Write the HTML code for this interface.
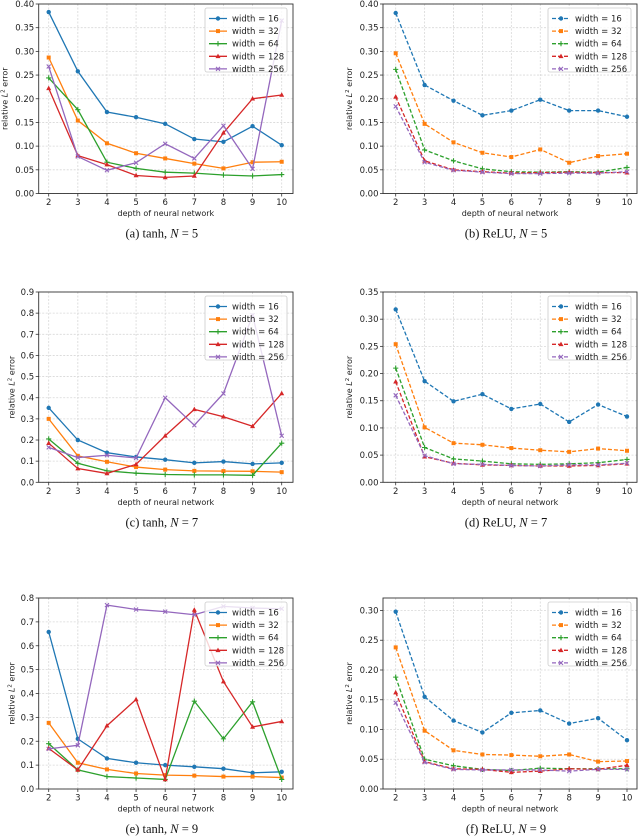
<!DOCTYPE html>
<html><head><meta charset="utf-8">
<style>
html,body{margin:0;padding:0;background:#fff;}
svg{display:block;}
text{font-family:"DejaVu Sans","Liberation Sans",sans-serif;}
.cap{font-family:"Liberation Serif",serif;font-size:12.5px;}
</style></head>
<body>
<svg id="fig" width="640" height="840" viewBox="0 0 640 840" xmlns="http://www.w3.org/2000/svg"></svg>
<script>
const depths = [2,3,4,5,6,7,8,9,10];
const widthLabels = ["width = 16","width = 32","width = 64","width = 128","width = 256"];
const a16=[.383,.258,.172,.161,.147,.115,.109,.142,.102];
const a32=[.287,.154,.106,.085,.074,.063,.053,.066,.067];
const a64=[.244,.177,.066,.053,.045,.043,.039,.037,.040];
const a128=[.222,.080,.061,.038,.034,.037,.128,.200,.208];
const a256=[.268,.078,.049,.065,.105,.074,.143,.052,.365];
const b16=[.381,.229,.196,.165,.175,.198,.175,.175,.162];
const b32=[.296,.147,.108,.086,.077,.093,.065,.079,.084];
const b64=[.262,.092,.069,.052,.046,.045,.046,.045,.055];
const b128=[.204,.069,.050,.046,.043,.044,.045,.044,.044];
const b256=[.184,.066,.049,.045,.042,.042,.043,.043,.046];
const c16=[.352,.200,.140,.120,.107,.092,.098,.087,.092];
const c32=[.300,.125,.097,.072,.060,.054,.053,.052,.048];
const c64=[.205,.090,.054,.043,.037,.035,.035,.033,.185];
const c128=[.185,.065,.042,.085,.220,.345,.310,.265,.420];
const c256=[.165,.117,.128,.115,.400,.270,.420,.790,.220];
const d16=[.318,.186,.149,.162,.135,.144,.111,.143,.121];
const d32=[.254,.101,.072,.069,.063,.059,.056,.062,.058];
const d64=[.210,.064,.043,.039,.034,.033,.034,.036,.042];
const d128=[.185,.047,.035,.032,.031,.030,.030,.031,.034];
const d256=[.160,.049,.034,.033,.031,.030,.032,.032,.035];
const e16=[.658,.210,.128,.110,.100,.093,.085,.068,.072];
const e32=[.277,.110,.082,.065,.058,.056,.052,.052,.048];
const e64=[.190,.080,.052,.046,.040,.368,.210,.365,.040];
const e128=[.170,.080,.265,.375,.040,.750,.450,.260,.283];
const e256=[.168,.183,.770,.752,.743,.730,.765,.758,.755];
const f16=[.298,.155,.115,.095,.128,.132,.110,.119,.082];
const f32=[.238,.098,.065,.058,.057,.055,.058,.046,.047];
const f64=[.188,.050,.039,.033,.031,.035,.034,.034,.034];
const f128=[.162,.046,.034,.033,.028,.030,.034,.033,.040];
const f256=[.145,.045,.033,.032,.032,.032,.030,.033,.033];
const ticksA=[0,.05,.10,.15,.20,.25,.30,.35,.40];
const ticksC=[0,.1,.2,.3,.4,.5,.6,.7,.8,.9];
const ticksD=[0,.05,.10,.15,.20,.25,.30,.35];
const ticksE=[0,.1,.2,.3,.4,.5,.6,.7,.8];
const ticksF=[0,.05,.10,.15,.20,.25,.30];
const captions=["(a) tanh, ","(b) ReLU, ","(c) tanh, ","(d) ReLU, ","(e) tanh, ","(f) ReLU, "];
const nValues=["5","5","7","7","9","9"];

const colors=["#1f77b4","#ff7f0e","#2ca02c","#d62728","#9467bd"];
const markers=["circle","square","plus","tri","x"];
const NS="http://www.w3.org/2000/svg";
const fig=document.getElementById("fig");
function mk(tag,attrs,parent){const e=document.createElementNS(NS,tag);for(const k in attrs)e.setAttribute(k,attrs[k]);(parent||fig).appendChild(e);return e;}

function marker(g,type,x,y,c){
  let m;
  if(type==="circle"){m=mk("circle",{cx:x,cy:y,r:2.2,fill:c},g);}
  else if(type==="square"){m=mk("rect",{x:x-2,y:y-2,width:4,height:4,fill:c},g);}
  else if(type==="plus"){m=mk("path",{d:`M${x-2.6},${y}H${x+2.6}M${x},${y-2.6}V${y+2.6}`,stroke:c,"stroke-width":1.1,fill:"none"},g);}
  else if(type==="tri"){m=mk("path",{d:`M${x},${y-2.7}L${x+2.5},${y+1.8}L${x-2.5},${y+1.8}Z`,fill:c},g);}
  else {m=mk("path",{d:`M${x-2},${y-2}L${x+2},${y+2}M${x-2},${y+2}L${x+2},${y-2}`,stroke:c,"stroke-width":1.1,fill:"none"},g);}
  
  
}

function panel(id,left,right,x2,x10,top,bottom,ymax,ticks,dec,series,dashed,cap,nval){
  const g=mk("g",{});
  
  
  const xs=v=>x2+(v-2)*(x10-x2)/8;
  const ys=v=>bottom-v*(bottom-top)/ymax;
  depths.forEach(d=>{const l=mk("line",{x1:xs(d),x2:xs(d),y1:top,y2:bottom,stroke:"#d8d8d8","stroke-width":0.8,"stroke-dasharray":"2,1.5"},g);
    });
  ticks.forEach(t=>{const l=mk("line",{x1:left,x2:right,y1:ys(t),y2:ys(t),stroke:"#d8d8d8","stroke-width":0.8,"stroke-dasharray":"2,1.5"},g);
    });
  series.forEach((s,i)=>{
    const pts=s.map((v,j)=>xs(depths[j])+","+ys(v)).join(" ");
    const pl=mk("polyline",{points:pts,fill:"none",stroke:colors[i],"stroke-width":1.3,"stroke-dasharray":dashed?"4,2":"none"},g);
    
    
    s.forEach((v,j)=>marker(g,markers[i],xs(depths[j]),ys(v),colors[i]));
  });
  const fr=mk("rect",{x:left,y:top,width:right-left,height:bottom-top,fill:"none",stroke:"#333","stroke-width":0.9},g);
  
  depths.forEach(d=>{
    mk("line",{x1:xs(d),x2:xs(d),y1:bottom,y2:bottom+3,stroke:"#333","stroke-width":0.8},g);
    const t=mk("text",{x:xs(d),y:bottom+11.5,"font-size":8.5,"text-anchor":"middle",fill:"#222"},g);
    t.textContent=d;
  });
  ticks.forEach(v=>{
    mk("line",{x1:left-3,x2:left,y1:ys(v),y2:ys(v),stroke:"#333","stroke-width":0.8},g);
    const t=mk("text",{x:left-4.5,y:ys(v)+3,"font-size":8.5,"text-anchor":"end",fill:"#222"},g);
    t.textContent=v.toFixed(dec);
  });
  const xl=mk("text",{x:(left+right)/2,y:bottom+22.5,"font-size":8,"text-anchor":"middle",fill:"#222"},g);
  xl.textContent="depth of neural network";
  const yx=left-(dec===1?24:31), yc=(top+bottom)/2;
  const yl=mk("text",{x:yx,y:yc,"font-size":8,"text-anchor":"middle",fill:"#222",transform:`rotate(-90 ${yx} ${yc})`},g);
  yl.innerHTML='relative <tspan font-style="italic">L</tspan><tspan font-size="5.5" dy="-3">2</tspan><tspan dy="3"> error</tspan>';
  
  const lw=dashed?83:82, lx=right-lw-6, ly=top+4;
  const lg=mk("g",{},g);
  
  mk("rect",{x:lx,y:ly,width:lw,height:64,fill:"rgba(255,255,255,0.8)",stroke:"#ccc","stroke-width":0.8,rx:2},lg);
  widthLabels.forEach((lab,i)=>{
    const yy=ly+10.5+i*12.6;
    mk("line",{x1:lx+4,x2:lx+22,y1:yy,y2:yy,stroke:colors[i],"stroke-width":1.3,"stroke-dasharray":dashed?"4,2":"none"},lg);
    marker(lg,markers[i],lx+13,yy,colors[i]);
    const t=mk("text",{x:lx+27,y:yy+3,"font-size":8.5,fill:"#222"},lg);
    t.textContent=lab;
  });
  const ct=mk("text",{x:(left+right)/2-4,y:bottom+44,"text-anchor":"middle",fill:"#111",class:"cap"},g);
  ct.innerHTML=cap+'<tspan font-style="italic">N</tspan> = '+nval;
  
}
panel("a",38.7,293,48.7,281.7,4,193.5,0.40,ticksA,2,[a16,a32,a64,a128,a256],false,captions[0],nValues[0]);
panel("b",383,637,395.7,627,4,193.5,0.40,ticksA,2,[b16,b32,b64,b128,b256],true,captions[1],nValues[1]);
panel("c",38.7,293,48.7,281.7,292,482.3,0.9,ticksC,1,[c16,c32,c64,c128,c256],false,captions[2],nValues[2]);
panel("d",383,637,395.7,627,292,482.3,0.35,ticksD,2,[d16,d32,d64,d128,d256],true,captions[3],nValues[3]);
panel("e",38.7,293,48.7,281.7,598,789,0.8,ticksE,1,[e16,e32,e64,e128,e256],false,captions[4],nValues[4]);
panel("f",383,637,395.7,627,598,789,0.321,ticksF,2,[f16,f32,f64,f128,f256],true,captions[5],nValues[5]);
</script>
</body></html>
